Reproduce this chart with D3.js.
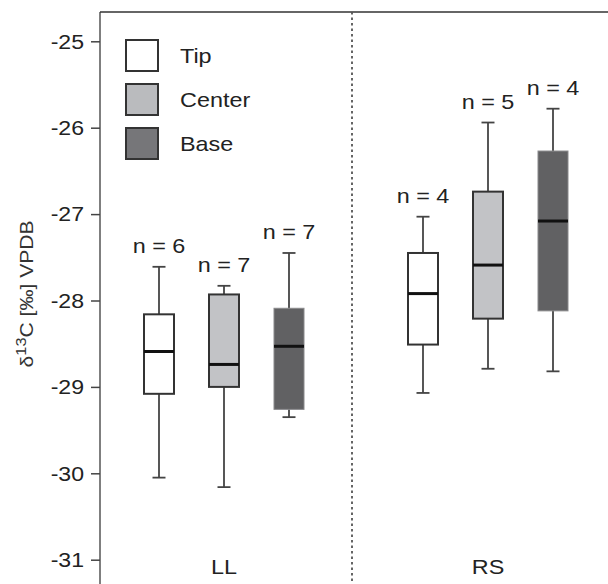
<!DOCTYPE html>
<meta charset="utf-8">
<head>
<style>
  body { margin: 0; background: #fff; }
  svg { display: block; font-family: "Liberation Sans", Arial, sans-serif; }
  .tick text { font-size: 21px; fill: #222; }
  .nlabel, .grouplabel, .legend text { font-size: 20px; fill: #222; }
</style>
<script src="https://cdnjs.cloudflare.com/ajax/libs/d3/7.8.5/d3.min.js"></script>
</head>
<body>
<svg width="608" height="584"></svg>
<script>
// data
var groups = ["LL", "RS"];
var parts = ["Tip", "Center", "Base"];
var yTicks = [-25, -26, -27, -28, -29, -30, -31];
// order: LL Tip, LL Center, LL Base, RS Tip, RS Center, RS Base
var whiskerLow  = [-30.05, -30.16, -29.35, -29.07, -28.79, -28.82];
var q1          = [-29.08, -29.00, -29.26, -28.51, -28.21, -28.12];
var median      = [-28.59, -28.74, -28.53, -27.92, -27.59, -27.08];
var q3          = [-28.16, -27.93, -28.09, -27.45, -26.74, -26.27];
var whiskerHigh = [-27.61, -27.83, -27.45, -27.03, -25.94, -25.78];
var nCount      = [6, 7, 7, 4, 5, 4];

var boxes = [];
groups.forEach(function(g, gi) {
  parts.forEach(function(p, pi) {
    var i = gi * parts.length + pi;
    boxes.push({group: g, part: p, lo: whiskerLow[i], q1: q1[i], med: median[i],
                q3: q3[i], hi: whiskerHigh[i], n: nCount[i]});
  });
});

var svg = d3.select("svg"),
    width = +svg.attr("width"),
    height = +svg.attr("height");

var axisX = 100, topY = 12;
var stretch = "scale(1.17,1)"; // the figure's lettering is a bit wide

var y = d3.scaleLinear().domain([-31, -25]).range([559.7, 41.3]);
var xGroup = d3.scalePoint().domain(groups).range([224, 488]);
var xPart = d3.scalePoint().domain(parts).range([-65, 65]);
var fill = d3.scaleOrdinal().domain(parts).range(["#ffffff", "#c2c3c6", "#616163"]);
var legendFill = d3.scaleOrdinal().domain(parts).range(["#ffffff", "#babbbe", "#767679"]);
var boxW = 30, capW = 13;

// frame: left axis line + top line
svg.append("line")
    .attr("x1", axisX).attr("x2", axisX)
    .attr("y1", topY).attr("y2", height)
    .attr("stroke", "#555").attr("stroke-width", 1.5);
svg.append("line")
    .attr("x1", axisX).attr("x2", width)
    .attr("y1", topY).attr("y2", topY)
    .attr("stroke", "#333").attr("stroke-width", 1.5);

// dotted divider between groups
svg.append("line")
    .attr("x1", 352).attr("x2", 352)
    .attr("y1", topY).attr("y2", height)
    .attr("stroke", "#555").attr("stroke-width", 1.8)
    .attr("stroke-dasharray", "2.5,3");

// y axis
var yAxis = d3.axisLeft(y)
    .tickValues(yTicks)
    .tickFormat(function(d) { return d3.format("d")(d).replace("−", "-"); })
    .tickSize(9)
    .tickPadding(6);
var ya = svg.append("g")
    .attr("transform", "translate(" + axisX + ",0)")
    .call(yAxis);
ya.select(".domain").remove();
ya.selectAll(".tick line").attr("stroke", "#444").attr("stroke-width", 1.5);
ya.selectAll(".tick text")
    .attr("x", 0)
    .attr("transform", "translate(-16,0) scale(1.1,1)");

// y axis title
var title = svg.append("text")
    .attr("transform", "translate(33,294) rotate(-90) " + stretch)
    .attr("text-anchor", "middle")
    .style("font-size", "18px")
    .attr("fill", "#333");
title.append("tspan").text("δ");
title.append("tspan").attr("dy", -7).style("font-size", "14px").text("13");
title.append("tspan").attr("dy", 7).text("C [‰] VPDB");

// boxes
var bx = svg.append("g").selectAll("g")
    .data(boxes)
    .enter().append("g")
    .attr("transform", function(d) { return "translate(" + (xGroup(d.group) + xPart(d.part)) + ",0)"; });

bx.append("line")
    .attr("x1", 0).attr("x2", 0)
    .attr("y1", function(d) { return y(d.hi); })
    .attr("y2", function(d) { return y(d.lo); })
    .attr("stroke", "#444").attr("stroke-width", 1.8);
bx.append("line")
    .attr("x1", -capW / 2).attr("x2", capW / 2)
    .attr("y1", function(d) { return y(d.hi); })
    .attr("y2", function(d) { return y(d.hi); })
    .attr("stroke", "#444").attr("stroke-width", 1.8);
bx.append("line")
    .attr("x1", -capW / 2).attr("x2", capW / 2)
    .attr("y1", function(d) { return y(d.lo); })
    .attr("y2", function(d) { return y(d.lo); })
    .attr("stroke", "#444").attr("stroke-width", 1.8);
bx.append("rect")
    .attr("x", -boxW / 2).attr("width", boxW)
    .attr("y", function(d) { return y(d.q3); })
    .attr("height", function(d) { return y(d.q1) - y(d.q3); })
    .attr("fill", function(d) { return fill(d.part); })
    .attr("stroke", function(d) { return d.part === "Base" ? "#8a8a8c" : "#333"; })
    .attr("stroke-width", function(d) { return d.part === "Base" ? 1 : 2; });
bx.append("line")
    .attr("x1", -boxW / 2).attr("x2", boxW / 2)
    .attr("y1", function(d) { return y(d.med); })
    .attr("y2", function(d) { return y(d.med); })
    .attr("stroke", "#111").attr("stroke-width", 3);
bx.append("text")
    .attr("class", "nlabel")
    .attr("text-anchor", "middle")
    .attr("transform", function(d) { return "translate(0," + (y(d.hi) - 14) + ") " + stretch; })
    .text(function(d) { return "n = " + d.n; });

// group labels at bottom
svg.selectAll(".grouplabel")
    .data(groups)
    .enter().append("text")
    .attr("class", "grouplabel")
    .attr("text-anchor", "middle")
    .attr("transform", function(d) { return "translate(" + xGroup(d) + ",574) " + stretch; })
    .text(function(d) { return d; });

// legend
var lg = svg.append("g").attr("class", "legend")
    .attr("transform", "translate(126,40)");
var li = lg.selectAll("g")
    .data(parts)
    .enter().append("g")
    .attr("transform", function(d, i) { return "translate(0," + (i * 44) + ")"; });
li.append("rect")
    .attr("width", 32).attr("height", 31)
    .attr("fill", function(d) { return legendFill(d); })
    .attr("stroke", "#333").attr("stroke-width", 2);
li.append("text")
    .attr("transform", "translate(54,23) " + stretch)
    .text(function(d) { return d; });
</script>
</body>
